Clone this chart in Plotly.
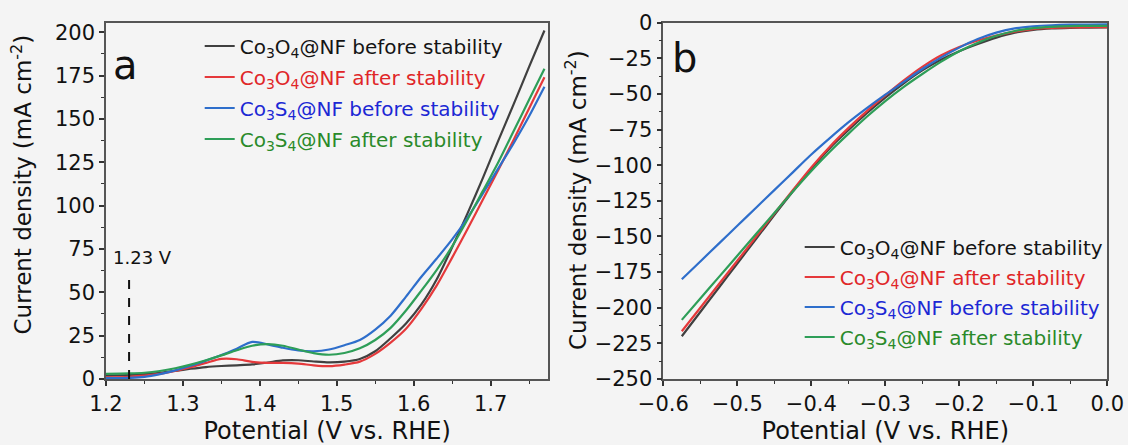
import plotly.graph_objects as go

# ---------------- Panel a : OER polarisation curves ----------------
potential_a = [1.20, 1.23, 1.25, 1.27, 1.29, 1.31, 1.33, 1.35, 1.37, 1.39, 1.41, 1.43, 1.45, 1.47,
               1.49, 1.51, 1.53, 1.55, 1.57, 1.59, 1.61, 1.63, 1.65, 1.67, 1.69, 1.71, 1.73, 1.75, 1.77]
co3o4_before_a = [2.0, 2.3, 2.8, 3.6, 4.7, 5.9, 6.9, 7.5, 7.9, 8.4, 9.5, 10.7, 10.8, 10.1,
                  9.6, 10.0, 11.5, 16.0, 23.5, 32.0, 43.0, 57.5, 76.0, 95.5, 116.0, 137.5, 158.5, 180.0, 201.0]
co3o4_after_a = [1.0, 1.3, 1.9, 3.0, 4.6, 6.8, 9.3, 11.6, 11.4, 9.9, 9.3, 9.3, 8.9, 7.9,
                 7.4, 8.3, 10.0, 14.5, 21.0, 29.0, 40.5, 54.0, 70.0, 86.5, 103.5, 120.5, 138.0, 156.0, 174.0]
co3s4_before_a = [0.5, 0.6, 1.2, 2.8, 5.0, 7.6, 10.6, 13.8, 17.5, 21.4, 20.0, 18.0, 16.5, 16.0,
                  17.0, 19.5, 22.5, 28.5, 36.5, 47.5, 59.0, 69.5, 80.5, 93.0, 107.0, 121.5, 136.0, 151.5, 168.5]
co3s4_after_a = [3.0, 3.2, 3.6, 4.6, 6.2, 8.3, 10.8, 13.6, 16.6, 19.2, 20.1, 19.2, 17.0, 14.9,
                 14.0, 15.0, 17.7, 22.5, 29.5, 39.5, 51.0, 63.0, 76.5, 92.0, 108.5, 125.0, 143.0, 161.0, 179.0]

# reference potential marker
ref_potential = [1.23, 1.23]
ref_current = [0, 61]
ref_label = "1.23 V"

# ---------------- Panel b : HER polarisation curves ----------------
potential_b = [-0.575, -0.55, -0.525, -0.5, -0.475, -0.45, -0.425, -0.4, -0.375, -0.35, -0.325, -0.3,
               -0.275, -0.25, -0.225, -0.2, -0.175, -0.15, -0.125, -0.1, -0.075, -0.05, -0.025, 0.0]
co3o4_before_b = [-220, -203, -186, -169, -152, -135, -118.5, -102.5, -88, -75.5, -63.5, -52.5,
                  -42.5, -33.5, -26, -20, -15, -10.5, -7, -5, -4, -3.6, -3.4, -3.3]
co3o4_after_b = [-216.5, -200, -183.5, -167, -150.5, -134, -117.5, -101.5, -87, -74, -62, -51,
                 -40.5, -31, -23, -17, -12.5, -9, -6.3, -4.5, -3.7, -3.3, -3.2, -3.2]
co3s4_before_b = [-180, -167.5, -155, -142.5, -130, -117.5, -105, -92.5, -81, -70, -60, -50.5,
                  -41.5, -32.5, -24.5, -17.5, -11.5, -7, -4, -2.6, -1.8, -1.4, -1.3, -1.2]
co3s4_after_b = [-208.5, -193.5, -178.5, -163.5, -148.5, -133.5, -118.5, -104, -90.5, -78, -66, -55,
                 -45, -36, -27.5, -20, -14, -9.2, -5.8, -3.8, -2.9, -2.4, -2.2, -2.2]

series_names = [
    "Co<sub>3</sub>O<sub>4</sub>@NF before stability",
    "Co<sub>3</sub>O<sub>4</sub>@NF after stability",
    "Co<sub>3</sub>S<sub>4</sub>@NF before stability",
    "Co<sub>3</sub>S<sub>4</sub>@NF after stability",
]
line_colors = ["#404040", "#e5393b", "#2e6ecb", "#2e9e58"]
text_colors = ["#141414", "#e02628", "#1c28d4", "#2a8a2a"]

x_ticks_a = [1.2, 1.3, 1.4, 1.5, 1.6, 1.7]
y_ticks_a = [0, 25, 50, 75, 100, 125, 150, 175, 200]
x_ticks_b = [-0.6, -0.5, -0.4, -0.3, -0.2, -0.1, 0.0]
y_ticks_b = [0, -25, -50, -75, -100, -125, -150, -175, -200, -225, -250]

x_title = "Potential (V vs. RHE)"
y_title = "Current density (mA cm<sup>-2</sup>)"

FONT = "DejaVu Sans"
W, H = 1128, 445

fig = go.Figure()

data_a = [co3o4_before_a, co3o4_after_a, co3s4_before_a, co3s4_after_a]
data_b = [co3o4_before_b, co3o4_after_b, co3s4_before_b, co3s4_after_b]

for i, ys in enumerate(data_a):
    fig.add_trace(go.Scatter(
        x=potential_a, y=ys, mode="lines",
        line=dict(color=line_colors[i], width=2.2, shape="spline", smoothing=0.8),
        name=f'<span style="color:{text_colors[i]}">{series_names[i]}</span>',
        legendgroup=f"a{i}", legend="legend", xaxis="x", yaxis="y",
    ))

fig.add_trace(go.Scatter(
    x=ref_potential, y=ref_current, mode="lines",
    line=dict(color="#111111", width=2, dash="dash"),
    showlegend=False, xaxis="x", yaxis="y", hoverinfo="skip",
))

for i, ys in enumerate(data_b):
    fig.add_trace(go.Scatter(
        x=potential_b, y=ys, mode="lines",
        line=dict(color=line_colors[i], width=2.2, shape="spline", smoothing=0.8),
        name=f'<span style="color:{text_colors[i]}">{series_names[i]}</span>',
        legendgroup=f"b{i}", legend="legend2", xaxis="x2", yaxis="y2",
    ))

axis_common = dict(
    showline=True, linecolor="#555555", linewidth=1.5, mirror=True,
    ticks="outside", ticklen=5, tickwidth=1.5, tickcolor="#333333",
    showgrid=False, zeroline=False, automargin=False,
    tickfont=dict(family=FONT, size=21, color="#111111"),
)
minor_common = dict(ticks="outside", ticklen=3, tickcolor="#333333", tickwidth=1.2)
title_font = dict(family=FONT, size=24, color="#111111")
ytitle_font = dict(family=FONT, size=23, color="#111111")

ydom = [1 - 379 / H, 1 - 22.7 / H]

fig.update_layout(
    width=W, height=H,
    margin=dict(l=0, r=0, t=0, b=0),
    paper_bgcolor="#f4f4f4", plot_bgcolor="#f4f4f4",
    font=dict(family=FONT, color="#111111"),
    xaxis=dict(axis_common, domain=[106 / W, 548.3 / W], range=[1.2, 1.775],
               tickvals=x_ticks_a, tickformat=".1f", minor=dict(minor_common, dtick=0.05),
               title=dict(text=x_title, font=title_font, standoff=8), anchor="y"),
    yaxis=dict(axis_common, domain=ydom, range=[0, 205.5], tickvals=y_ticks_a,
               minor=dict(minor_common, dtick=12.5), anchor="x"),
    xaxis2=dict(axis_common, domain=[663.3 / W, 1107.3 / W], range=[-0.6, 0.0],
                tickvals=x_ticks_b, tickformat=".1f", minor=dict(minor_common, dtick=0.05),
                title=dict(text=x_title, font=title_font, standoff=8), anchor="y2"),
    yaxis2=dict(axis_common, domain=ydom, range=[-250, 0], tickvals=y_ticks_b,
                minor=dict(minor_common, dtick=12.5), anchor="x2"),
    legend=dict(x=(241.7 - 42) / W, y=1 - 26.5 / H, xanchor="left", yanchor="top",
                bgcolor="rgba(0,0,0,0)", borderwidth=0, tracegroupgap=2,
                font=dict(family=FONT, size=20, color="#111111")),
    legend2=dict(x=(841.7 - 42) / W, y=1 - 227.5 / H, xanchor="left", yanchor="top",
                 bgcolor="rgba(0,0,0,0)", borderwidth=0, tracegroupgap=1,
                 font=dict(family=FONT, size=20, color="#111111")),
    annotations=[
        dict(text="a", x=125.5 / W, y=1 - 65.5 / H, xref="paper", yref="paper",
             xanchor="center", yanchor="middle",
             showarrow=False, font=dict(family=FONT, size=40, color="#111111")),
        dict(text="b", x=684.5 / W, y=1 - 58.5 / H, xref="paper", yref="paper",
             xanchor="center", yanchor="middle",
             showarrow=False, font=dict(family=FONT, size=40, color="#111111")),
        dict(text=ref_label, x=1.248, y=69.8, xref="x", yref="y",
             xanchor="center", yanchor="middle",
             showarrow=False, font=dict(family=FONT, size=18, color="#111111")),
        dict(text=y_title, x=21 / W, y=1 - 184.5 / H, xref="paper", yref="paper",
             xanchor="center", yanchor="middle", textangle=-90,
             showarrow=False, font=ytitle_font),
        dict(text=y_title, x=576 / W, y=1 - 200 / H, xref="paper", yref="paper",
             xanchor="center", yanchor="middle", textangle=-90,
             showarrow=False, font=ytitle_font),
    ],
)

fig.write_html("out.html")
